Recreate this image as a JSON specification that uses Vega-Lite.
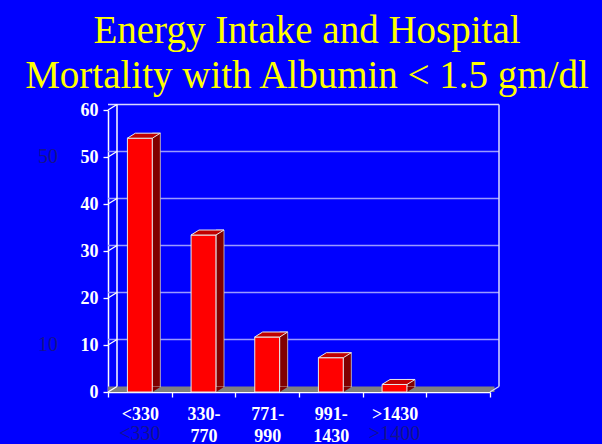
{
  "$schema": "https://vega.github.io/schema/vega-lite/v6.json",
  "width": 382,
  "height": 282,
  "autosize": "none",
  "padding": {"left": 108, "top": 110, "right": 112, "bottom": 52},
  "background": "#0000ff",
  "config": {
    "view": {"stroke": null},
    "font": "Liberation Serif"
  },
  "title": {
    "text": ["Energy Intake and Hospital", "Mortality with Albumin < 1.5 gm/dl"],
    "font": "Liberation Serif",
    "fontSize": 39,
    "fontWeight": "normal",
    "color": "#ffff00",
    "lineHeight": 45,
    "offset": 5,
    "dx": 8
  },
  "datasets": {
    "mortality": [
      {"intake": "<330", "rate": 54},
      {"intake": "330-770", "rate": 33.4},
      {"intake": "771-990", "rate": 11.7},
      {"intake": "991-1430", "rate": 7.3},
      {"intake": ">1430", "rate": 1.6}
    ],
    "yticks": [
      {"v": 0}, {"v": 10}, {"v": 20}, {"v": 30}, {"v": 40}, {"v": 50}, {"v": 60}
    ]
  },
  "layer": [
    {
      "description": "floor of the 3-D box",
      "data": {"values": [{"v": 0}]},
      "mark": {"type": "rule", "color": "#808080", "strokeWidth": 5.5, "xOffset": 4.5, "x2Offset": 4.5, "yOffset": -2.75},
      "encoding": {
        "y": {"field": "v", "type": "quantitative", "scale": {"domain": [0, 60], "nice": false}}
      }
    },
    {
      "description": "back wall gridlines",
      "data": {"name": "yticks"},
      "transform": [{"filter": "datum.v > 0 && datum.v < 60"}],
      "mark": {"type": "rule", "color": "#9a9aff", "strokeWidth": 1.5, "xOffset": 9, "x2Offset": 9, "yOffset": -5.5},
      "encoding": {
        "y": {"field": "v", "type": "quantitative"}
      }
    },
    {
      "description": "back wall top edge",
      "data": {"values": [{"v": 60}]},
      "mark": {"type": "rule", "color": "#d8d8ff", "strokeWidth": 1.5, "xOffset": 9, "x2Offset": 9, "yOffset": -5.5},
      "encoding": {
        "y": {"field": "v", "type": "quantitative"}
      }
    },
    {
      "description": "back wall left edge",
      "data": {"values": [{"lo": 0, "hi": 60}]},
      "mark": {"type": "rule", "color": "#ffffff", "strokeWidth": 1.5, "xOffset": 9, "yOffset": -5.5, "y2Offset": -5.5},
      "encoding": {
        "x": {"datum": "<330", "type": "nominal", "bandPosition": 0},
        "y": {"field": "lo", "type": "quantitative"},
        "y2": {"field": "hi"}
      }
    },
    {
      "description": "back wall right edge",
      "data": {"values": [{"lo": 0, "hi": 60}]},
      "mark": {"type": "rule", "color": "#d8d8ff", "strokeWidth": 1.5, "xOffset": 9, "yOffset": -5.5, "y2Offset": -5.5},
      "encoding": {
        "x": {"datum": " ", "type": "nominal", "bandPosition": 1},
        "y": {"field": "lo", "type": "quantitative"},
        "y2": {"field": "hi"}
      }
    },
    {
      "description": "side wall tick connectors",
      "data": {"name": "yticks"},
      "mark": {"type": "point", "shape": "M 0 0 L 9 -5.5", "size": 4, "filled": false, "stroke": "#ffffff", "strokeWidth": 1.3, "opacity": 1},
      "encoding": {
        "x": {"datum": "<330", "type": "nominal", "bandPosition": 0},
        "y": {"field": "v", "type": "quantitative"}
      }
    },
    {
      "description": "floor right corner",
      "data": {"values": [{"v": 0}]},
      "mark": {"type": "point", "shape": "M 0 0 L 9 -5.5", "size": 4, "filled": false, "stroke": "#d8d8ff", "strokeWidth": 1.3, "opacity": 1},
      "encoding": {
        "x": {"datum": " ", "type": "nominal", "bandPosition": 1},
        "y": {"field": "v", "type": "quantitative"}
      }
    },
    {
      "description": "stray value labels",
      "data": {"values": [{"label": "50", "v": 50}, {"label": "10", "v": 10}]},
      "mark": {"type": "text", "font": "Liberation Serif", "fontSize": 20, "color": "#14148c", "dx": -60, "baseline": "middle", "align": "center"},
      "encoding": {
        "x": {"datum": "<330", "type": "nominal", "bandPosition": 0},
        "y": {"field": "v", "type": "quantitative"},
        "text": {"field": "label"}
      }
    },
    {
      "description": "bar side faces",
      "data": {"name": "mortality"},
      "mark": {"type": "bar", "width": 8, "xOffset": 16.5, "yOffset": -5, "y2Offset": -5, "fill": "#800000", "stroke": "#d0d0d0", "strokeWidth": 0.8},
      "encoding": {
        "x": {"field": "intake", "type": "nominal", "sort": null},
        "y": {"field": "rate", "type": "quantitative"}
      }
    },
    {
      "description": "bar side faces, lower corner",
      "data": {"name": "mortality"},
      "mark": {"type": "point", "shape": "M 12.5 0 L 20.5 -5 L 12.5 -5 Z", "size": 4, "filled": true, "fill": "#800000", "opacity": 1, "strokeWidth": 0},
      "encoding": {
        "x": {"field": "intake", "type": "nominal", "sort": null},
        "y": {"datum": 0, "type": "quantitative"}
      }
    },
    {
      "description": "bar front faces",
      "data": {"name": "mortality"},
      "mark": {"type": "bar", "width": {"band": 0.39}, "fill": "#ff0000", "stroke": "#e8e8e8", "strokeWidth": 1},
      "encoding": {
        "x": {
          "field": "intake", "type": "nominal", "sort": null,
          "scale": {"domain": ["<330", "330-770", "771-990", "991-1430", ">1430", " "], "paddingInner": 0, "paddingOuter": 0},
          "axis": {
            "title": null, "labelAngle": 0, "labelAlign": "center", "labelBaseline": "top",
            "domainColor": "#ffffff", "domainWidth": 1.5,
            "tickBand": "extent", "tickColor": "#ffffff", "tickSize": 5, "tickWidth": 1.3,
            "labelColor": "#ffffff", "labelFontWeight": "bold", "labelFontSize": 18,
            "labelLineHeight": 22, "labelPadding": 8,
            "labelExpr": "isString(datum.value) && indexof(datum.value, '-') > 0 ? [slice(datum.value, 0, indexof(datum.value, '-') + 1), slice(datum.value, indexof(datum.value, '-') + 1)] : (isString(datum.value) ? datum.value : '')"
          }
        },
        "y": {
          "field": "rate", "type": "quantitative",
          "axis": {
            "title": null, "grid": false,
            "values": [0, 10, 20, 30, 40, 50, 60],
            "domainColor": "#ffffff", "domainWidth": 1.5,
            "tickColor": "#ffffff", "tickSize": 5, "tickWidth": 1.3,
            "labelColor": "#ffffff", "labelFontWeight": "bold", "labelFontSize": 18,
            "labelPadding": 5
          }
        }
      }
    },
    {
      "description": "bar top faces",
      "data": {"name": "mortality"},
      "mark": {"type": "point", "shape": "M -12.5 0 L 12.5 0 L 20.5 -5 L -4.5 -5 Z", "size": 4, "filled": true, "fill": "#c00000", "opacity": 1, "stroke": "#e8e8e8", "strokeWidth": 1},
      "encoding": {
        "x": {"field": "intake", "type": "nominal", "sort": null},
        "y": {"field": "rate", "type": "quantitative"}
      }
    },
    {
      "description": "stray category labels",
      "data": {"values": [{"intake": "<330", "label": "<330", "v": 0}, {"intake": ">1430", "label": ">1400", "v": 0}]},
      "mark": {"type": "text", "font": "Liberation Serif", "fontSize": 20, "color": "#14148c", "dy": 42, "baseline": "middle", "align": "center"},
      "encoding": {
        "x": {"field": "intake", "type": "nominal", "sort": null},
        "y": {"field": "v", "type": "quantitative"},
        "text": {"field": "label"}
      }
    }
  ]
}
